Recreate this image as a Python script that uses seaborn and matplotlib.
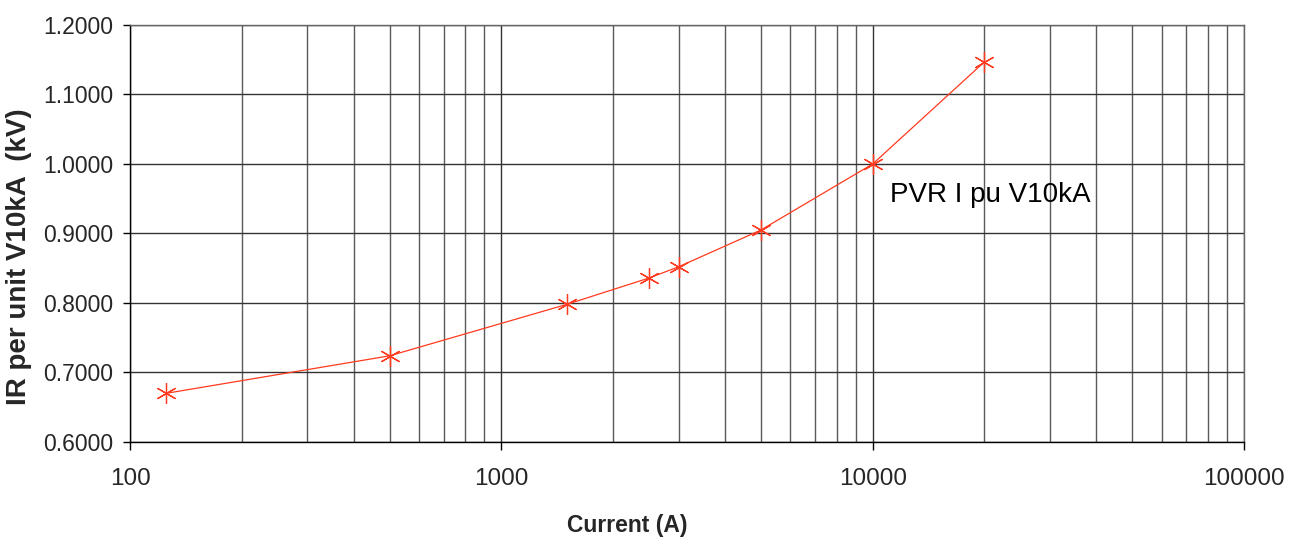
import matplotlib
matplotlib.use("Agg")
import matplotlib.pyplot as plt
import matplotlib.ticker as mticker
import seaborn as sns
import pandas as pd

# Per-unit residual voltage vs. discharge current
current_a = [125, 500, 1500, 2500, 3000, 5000, 10000, 20000]
ir_pu = [0.670, 0.724, 0.798, 0.836, 0.852, 0.905, 1.000, 1.147]
series_label = "PVR I pu V10kA"
y_ticks = [0.6, 0.7, 0.8, 0.9, 1.0, 1.1, 1.2]
x_ticks = [100, 1000, 10000, 100000]

sns.set_style("white")
plt.rcParams["font.family"] = ["Liberation Sans", "DejaVu Sans"]

line_color = "#FF3A1E"
grid_color = "#333333"

fig = plt.figure(figsize=(13.07, 5.42), dpi=100)
ax = fig.add_axes([0.0995, 0.1845, 0.8523, 0.7694])

df = pd.DataFrame({"current": current_a, "ir": ir_pu})
sns.lineplot(data=df, x="current", y="ir", ax=ax, color=line_color,
             linewidth=0.9, marker=(6, 2, 0), markersize=15,
             markeredgecolor=line_color, markeredgewidth=0.9,
             sort=False, legend=False, zorder=5)

ax.set_xscale("log")
ax.set_xlim(100, 100000)
ax.set_ylim(0.6, 1.2)

ax.set_xticks(x_ticks)
ax.xaxis.set_major_formatter(mticker.FuncFormatter(lambda v, p: f"{int(round(v))}"))
ax.xaxis.set_minor_locator(mticker.LogLocator(base=10, subs=range(2, 10), numticks=20))
ax.xaxis.set_minor_formatter(mticker.NullFormatter())
ax.set_yticks(y_ticks)
ax.yaxis.set_major_formatter(mticker.FormatStrFormatter("%.4f"))

ax.grid(True, which="major", axis="both", color=grid_color, linewidth=1.0)
ax.grid(True, which="minor", axis="x", color="#5a5a5a", linewidth=1.0)
ax.set_axisbelow(True)

ax.tick_params(axis="y", which="major", direction="out", length=5, width=1,
               color="black", labelsize=16.5, pad=7, left=True)
ax.tick_params(axis="x", which="major", direction="out", length=6, width=1,
               color="black", labelsize=17.5, pad=13, bottom=True)
ax.tick_params(axis="x", which="minor", length=0)

for side in ["left", "bottom"]:
    ax.spines[side].set_color("black")
    ax.spines[side].set_linewidth(1.0)
for side in ["top", "right"]:
    ax.spines[side].set_color("#666666")
    ax.spines[side].set_linewidth(1.0)

ax.set_xlabel("Current (A)", fontsize=16.5, fontweight="bold")
ax.set_ylabel("IR per unit V10kA  (kV)", fontsize=20, fontweight="bold")
ax.xaxis.set_label_coords(0.446, -0.172)
ax.yaxis.set_label_coords(-0.088, 0.445)

ax.text(11140, 0.9458, series_label, fontsize=20, va="baseline", ha="left",
        color="black")

fig.savefig("out.png", dpi=100)
